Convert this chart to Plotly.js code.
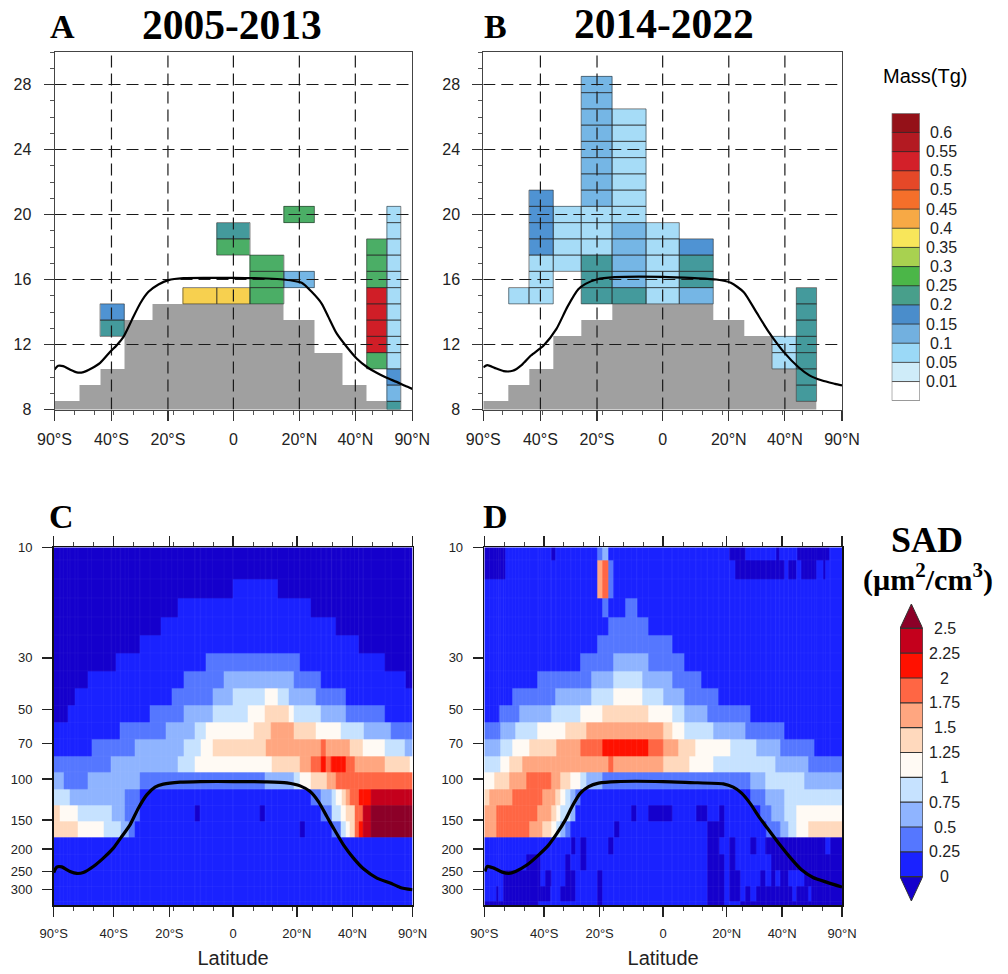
<!DOCTYPE html>
<html>
<head>
<meta charset="utf-8">
<script src="https://cdn.plot.ly/plotly-3.0.1.min.js"></script>
<style>html,body{margin:0;padding:0;background:#fff}#chart{width:1008px;height:974px}</style>
</head>
<body>
<div id="chart"></div>
<script>
// ---------- shared axis data ----------
const latTickVals = [-179, -122, -65.5, 0, 66, 122, 179];
const latTickValsSad = [-179.3, -119.3, -63.7, 0, 63.7, 119.3, 179.3];
const latTickText = ['90°S', '40°S', '20°S', '0', '20°N', '40°N', '90°N'];
const altTicks = [8, 12, 16, 20, 24, 28];
const pressureTicks = [10, 30, 50, 70, 100, 150, 200, 250, 300];

// ---------- panels A, B : mass per latitude band / altitude (km) ----------
const massLatEdges = [-179, -167.5, -153.6, -133.4, -109.2, -81.3, -50.5, -16.6, 16.6, 50.5, 81, 109.2, 133.4, 153.6, 167.5, 179];
const altEdges = [8, 8.5, 9.5, 10.5, 11.5, 12.5, 13.5, 14.5, 15.5, 16.5, 17.5, 18.5, 19.5, 20.5, 21.5, 22.5, 23.5, 24.5, 25.5, 26.5, 27.5, 28.5, 29.5, 30];
const massLevels = [0.01, 0.05, 0.1, 0.15, 0.2, 0.25, 0.3, 0.35, 0.4, 0.45, 0.5, 0.5, 0.55, 0.6];
const massLabels = ['0.01', '0.05', '0.1', '0.15', '0.2', '0.25', '0.3', '0.35', '0.4', '0.45', '0.5', '0.5', '0.55', '0.6'];
const massBarColors = ['#ffffff', '#cfecf9', '#9bd9f7', '#72b0df', '#4a8dcb', '#489f8b', '#4bb648', '#a8d150', '#f8e65a', '#f7a945', '#f56f2a', '#e54828', '#d32029', '#b31a22', '#941118'];
const massCellColors = ['#ffffff', '#cfecf9', '#a6dcf7', '#75b6e5', '#4f93d3', '#449a9c', '#4bae66', '#a8d150', '#f7d04f', '#f7a945', '#f56f2a', '#e54828', '#d01e27', '#b31a22', '#941118'];
// [band index, lowest km, highest km, mass]
const massA = [
  [3, 13, 13, 0.22], [3, 14, 14, 0.17],
  [6, 15, 15, 0.37], [7, 15, 15, 0.37], [7, 18, 18, 0.27], [7, 19, 19, 0.22],
  [8, 15, 17, 0.27], [9, 16, 16, 0.12], [9, 20, 20, 0.27],
  [12, 11, 11, 0.27], [12, 12, 15, 0.52], [12, 16, 18, 0.27],
  [13, 8, 8, 0.22], [13, 9, 9, 0.12], [13, 10, 10, 0.17], [13, 11, 20, 0.07]
];
const massB = [
  [2, 15, 15, 0.07], [3, 15, 17, 0.07], [3, 18, 21, 0.17], [4, 17, 20, 0.07],
  [5, 15, 17, 0.22], [5, 18, 20, 0.07], [5, 21, 28, 0.12],
  [6, 15, 15, 0.22], [6, 16, 19, 0.12], [6, 20, 26, 0.07],
  [7, 15, 19, 0.07], [8, 15, 15, 0.12], [8, 16, 17, 0.22], [8, 18, 18, 0.17],
  [11, 11, 12, 0.07], [12, 9, 15, 0.22]
];
const terrainTopA = [8.5, 8.5, 9.5, 10.5, 13.5, 14.5, 14.5, 14.5, 14.5, 13.5, 11.5, 9.5, 8.5, 8, 8];
const terrainTopB = [8.5, 8.5, 9.5, 10.5, 12.5, 13.5, 14.5, 14.5, 14.5, 13.5, 12.5, 10.5, 8.5, 8, 8];
const tropLatA = [-179, -175.3, -170.3, -163.7, -156.7, -150, -141.7, -133.3, -123.3, -116.7, -110, -101.7, -93.3, -85, -75, -65, -50, -26.7, 0, 33.3, 50, 68.3, 78.3, 88.3, 95, 103.3, 113.3, 123.3, 133.3, 143.3, 153.3, 163.3, 171.7, 179];
const tropAltA = [10.46, 10.69, 10.67, 10.46, 10.28, 10.30, 10.54, 10.87, 11.55, 11.96, 12.47, 13.5, 14.52, 15.24, 15.69, 15.96, 16.08, 16.1, 16.1, 16.06, 16.0, 15.8, 15.24, 14.52, 13.7, 12.68, 11.86, 11.14, 10.63, 10.26, 9.95, 9.7, 9.46, 9.27];
const tropLatB = [-179, -175, -167.8, -158.7, -149.7, -140.5, -131.5, -118.8, -106, -95.2, -84.2, -77, -66, -47.8, 0, 32, 53.5, 68, 81, 93.5, 106, 121, 135.6, 146.5, 159.2, 171.9, 179];
const tropAltB = [10.6, 10.73, 10.56, 10.36, 10.38, 10.75, 11.32, 11.94, 12.96, 14.3, 15.4, 15.73, 16.0, 16.14, 16.16, 16.08, 16.0, 15.8, 15.22, 13.99, 12.76, 11.53, 10.6, 10.1, 9.78, 9.58, 9.48];

// ---------- panels C, D : SAD bins on pressure levels ----------
const pressureEdges = [10, 11.34, 13.7, 16.54, 19.97, 23.9, 28.55, 34.1, 40.4, 48.2, 56.8, 67, 79.6, 93, 110.1, 130, 152.4, 178.5, 210.9, 247.7, 290.4, 337, 350];
const sadLabels = ['0', '0.25', '0.5', '0.75', '1', '1.25', '1.5', '1.75', '2', '2.25', '2.5'];
const sadLevels = [0, 0.25, 0.5, 0.75, 1, 1.25, 1.5, 1.75, 2, 2.25, 2.5];
// bin 0: below 0 ... bin 11: above 2.5
const sadColors = ['#1500cc', '#1a22ff', '#5577ff', '#8fb4ff', '#c6e2ff', '#fffaf4', '#ffd9bd', '#ffa680', '#ff6644', '#ff1100', '#c4001c', '#8c0028'];
// each row, top to bottom: bin, end of run, bin, end of run, ..., bin
const sadC = [
  [0],
  [0],
  [0, 0, 1, 44.3, 0],
  [0, -55.3, 1, 77.7, 0],
  [0, -72, 1, 103, 0],
  [0, -93.7, 1, 125.7, 0],
  [0, -117.3, 1, -27, 2, 66.3, 1, 152, 0],
  [0, -145.3, 1, -49.7, 2, -9, 3, 61, 2, 88, 1, 172, 0],
  [0, -158, 1, -61.3, 2, -20.7, 3, -0.3, 4, 32, 5, 44.3, 4, 55.3, 3, 83, 2, 112.7, 1],
  [0, -165.7, 1, -83, 2, -49.7, 3, -20.7, 4, 14.7, 5, 32, 6, 55.3, 5, 61, 4, 88, 3, 112.7, 2, 152, 1],
  [1, -113, 2, -67, 3, -38.3, 4, -27, 5, 21, 6, 38, 7, 61, 6, 83, 5, 108, 4, 130.3, 3, 158, 2],
  [1, -141.7, 2, -98, 3, -49.7, 4, -32.3, 5, -20.7, 6, 32.7, 7, 87.7, 8, 92.7, 7, 117, 6, 129.7, 5, 152, 4, 171.7, 3],
  [2, -122, 3, -55.3, 4, -38, 5, 38.7, 6, 67, 7, 77.7, 8, 87.7, 9, 92.7, 8, 98, 9, 112.7, 8, 121.3, 7, 152, 6, 176.3, 5],
  [3, -169.7, 2, -145.3, 3, -93, 2, 32, 3, 61, 4, 67, 5, 77.7, 6, 93.7, 7, 103, 8],
  [4, -163, 3, -108, 2, -93, 1, 77.7, 2, 87.7, 3, 98.7, 4, 103, 5, 108.7, 6, 112.7, 7, 117, 8, 125.3, 9, 138, 10],
  [6, -173, 5, -155, 4, -121.3, 3, -108, 2, -93, 1, -38, 0, -33, 1, 27, 0, 32, 1, 88, 2, 98.7, 4, 108, 5, 112.7, 6, 121.3, 8, 129.7, 10, 138, 11],
  [6, -155, 5, -129.7, 4, -112.3, 3, -104.7, 2, -98, 1, 66.3, 0, 72, 1, 98.3, 2, 107.7, 4, 112.7, 5, 117, 6, 121.3, 8, 125.3, 9, 129.7, 10, 138, 11],
  [1], [1], [1], [1], [1]
];
const sadD = [
  [0, -158, 1, -112, 0, -108, 1, -66.3, 2, -60.7, 3, -55.3, 1, 66.3, 0, 82, 1, 113, 0, 116.3, 1, 134, 0, 167, 1],
  [0, -158, 1, -66.3, 7, -60.7, 8, -55.3, 2, -49.7, 1, 72, 0, 121, 1, 125.7, 0, 133.7, 1, 138, 0, 154, 1, 160.3, 0, 162.7, 1],
  [1, -66.3, 7, -60.7, 8, -55.3, 2, -49.7, 1],
  [1, -60.7, 2, -55.3, 1, -38, 2, -26.3, 1],
  [1, -55.3, 2, -14.7, 1],
  [1, -66.3, 2, 9, 1],
  [1, -83, 2, -49.7, 3, -14.7, 2, 21, 1],
  [1, -125.7, 2, -72, 3, -49.7, 4, -20.7, 3, 8.7, 2, 38, 1],
  [1, -151.3, 2, -108, 3, -72, 4, -49.7, 5, -20.7, 4, -0.3, 3, 21, 2, 55.3, 1],
  [1, -164.7, 2, -144.7, 3, -112.3, 4, -83, 5, -60.7, 6, -14.7, 5, 8.7, 4, 21, 3, 44.3, 2, 87.7, 1],
  [2, -163, 3, -148, 4, -125.7, 5, -98, 6, -77.3, 7, 0, 6, 9, 5, 21, 4, 50, 3, 82.7, 2, 121.3, 1],
  [3, -163, 4, -151.3, 5, -133.7, 6, -107.3, 7, -82.7, 8, -60.7, 9, -14.7, 8, 0, 7, 15, 6, 32.3, 5, 67, 4, 93, 3, 117, 2, 152, 1],
  [4, -163, 5, -154.7, 6, -141.3, 7, -55.3, 8, -49.7, 7, 0, 6, 26.7, 5, 50, 4, 112.7, 3, 145.3, 2],
  [5, -169.7, 6, -154.7, 7, -137.3, 8, -112, 7, -103, 6, -93, 5, -82.7, 4, -77.3, 3, -60.7, 2, 87.7, 3, 102.7, 4, 141.3, 3],
  [6, -174, 7, -151.3, 8, -121.3, 7, -108, 6, -103, 5, -98, 4, -93, 3, -88, 2, -82.7, 1, 87.7, 2, 102.7, 3, 121.3, 4],
  [7, -167, 8, -125.7, 7, -112, 6, -107.3, 5, -103, 4, -93, 3, -88, 1, -32, 0, -26.7, 1, -14.7, 0, 9, 1, 33, 0, 44.3, 1, 56, 0, 61.3, 1, 97.7, 2, 108, 3, 121.3, 4, 133.7, 5],
  [7, -167, 8, -133.7, 7, -121.3, 6, -112, 5, -107.3, 4, -103, 3, -98, 2, -93, 1, -49.3, 0, -44, 1, 44.3, 0, 61.3, 1, 103.7, 2, 117, 3, 125.3, 4, 133.7, 5, 145.3, 6],
  [1, -92.3, 0, -88, 1, -82.7, 0, -77.3, 1, -55.3, 0, -49.7, 1, 44.3, 0, 56, 1, 66.7, 0, 72, 1, 87.7, 0, 93, 1, 102.7, 0, 162.7, 1, 167.7, 0],
  [1, -137.3, 0, -123, 1, -98, 0, -93, 1, -82.7, 0, -77.3, 1, 44.3, 0, 61.3, 1, 66.7, 0, 72, 1, 108, 0],
  [1, -160.3, 0, -123, 1, -118, 0, -112, 1, -98, 0, -88, 1, -66, 0, -60.7, 1, 44.3, 0, 61.3, 1, 66.7, 0, 77.3, 1, 97.7, 0, 102.7, 1, 108, 0, 112.7, 1, 117, 0, 125.3, 1, 141.3, 0],
  [1, -167, 0, -165, 1, -160, 0, -113, 1, -103, 0, -88, 1, -66, 0, -60.7, 1, 44, 0, 61.3, 1, 66.7, 0, 77.3, 1, 82.7, 0, 87.7, 1, 93, 0, 129.7, 1, 133.7, 0, 145.3, 1, 148.7, 0],
  [0, -125, 1, -66, 0, -60.7, 1, 44, 0, 61.3, 1, 77, 0]
];
const tropLatC = [-179.3, -176.3, -171.3, -163, -156.3, -149.7, -139.7, -129.7, -119.7, -111.3, -103, -94.7, -86.3, -78, -69.7, -53, -33, 0.3, 33.7, 53.7, 67, 77, 85.3, 93.7, 100.3, 110.3, 120.3, 130.3, 143.7, 157, 167, 179.3];
const tropHpaC = [252.7, 239.4, 239, 250, 255, 252.7, 238, 219, 198.4, 176.8, 157.4, 133.4, 116.9, 108.3, 105.1, 103, 102.4, 102.4, 102.7, 103.7, 106.9, 113.1, 125, 144.9, 162.6, 192, 219, 243.5, 267, 280.6, 293, 300];
const tropLatD = [-178.7, -176.3, -169.7, -161.3, -154.7, -148, -136.3, -124.7, -114.7, -106.3, -98, -91.3, -83, -74.7, -64.7, -46.3, 0, 27, 60.3, 70.3, 78.7, 87, 97, 107, 117, 127, 138.7, 150.3, 163.7, 179.3];
const tropHpaD = [250, 238, 241.9, 251.7, 255, 250, 234, 212, 192, 171, 149.8, 131.2, 114.9, 107.6, 104, 102.4, 102.4, 103.4, 104.8, 108.3, 114.9, 126.9, 147.3, 168.2, 192, 216.9, 245.9, 265.5, 278, 292];

// ---------- helpers ----------
const W = 1008, H = 974, ink = '#222';
const FONT = 'Liberation Sans, Arial, sans-serif', SERIF = 'Liberation Serif, Times New Roman, serif';
const domX = (a, b) => [a / W, b / W];
const domY = (top, bottom) => [1 - bottom / H, 1 - top / H];
const discrete = cols => cols.flatMap((c, i) => [[i / cols.length, c], [(i + 1) / cols.length, c]]);
const heat = (o, cols) => Object.assign({type: 'heatmap', showscale: false, hoverinfo: 'skip', zsmooth: false, colorscale: discrete(cols), zmin: -0.5, zmax: cols.length - 0.5}, o);
const line = (x, y, xa, ya, ln, extra) => Object.assign({type: 'scatter', mode: 'lines', x, y, xaxis: xa, yaxis: ya, line: ln, hoverinfo: 'skip', showlegend: false}, extra || {});
const massBin = v => massLevels.filter(l => l <= v).length;

const traces = [];
const minorLat = Array.from({length: 19}, (_, i) => -179.3 + i * 179.3 / 9);
const majorAlt = altTicks;
const minorAlt = altEdges.slice(1, -1).map(e => e + 0.5).concat([8]);

function massPanel(cells, terrain, tlat, talt, xa, ya) {
  const rows = altEdges.length - 1, cols = massLatEdges.length - 1;
  const centers = Array.from({length: rows}, (_, r) => r + 8);
  const tz = centers.map(a => terrain.map(t => a < t ? 0 : null));
  traces.push(heat({x: massLatEdges, y: altEdges, z: tz, xaxis: xa, yaxis: ya}, ['#a0a0a0']));
  const cz = centers.map(() => new Array(cols).fill(null));
  const ox = [], oy = [];
  cells.forEach(([col, lo, hi, v]) => {
    for (let a = lo; a <= hi; a++) {
      cz[a - 8][col] = massBin(v);
      const x0 = massLatEdges[col], x1 = massLatEdges[col + 1], y0 = altEdges[a - 8], y1 = altEdges[a - 7];
      ox.push(x0, x1, x1, x0, x0, null); oy.push(y0, y0, y1, y1, y0, null);
    }
  });
  traces.push(heat({x: massLatEdges, y: altEdges, z: cz, xaxis: xa, yaxis: ya}, massCellColors));
  traces.push(line(ox, oy, xa, ya, {color: 'rgba(40,40,40,0.72)', width: 0.8}));
  const gx = [], gy = [];
  latTickVals.slice(1, -1).forEach(v => { gx.push(v, v, null); gy.push(8, 30, null); });
  altTicks.slice(1).forEach(v => { gx.push(-179, 179, null); gy.push(v, v, null); });
  traces.push(line(gx, gy, xa, ya, {color: '#1a1a1a', width: 1.2, dash: '12px,6px'}));
  traces.push(line(tlat, talt, xa, ya, {color: '#000', width: 2.2, shape: 'spline', smoothing: 0.6}));
}

function sadPanel(rows, tlat, thpa, xa, ya) {
  const stops = new Set([-179.3, 179.3]);
  rows.forEach(r => { for (let i = 1; i < r.length; i += 2) stops.add(r[i]); });
  const edges = [...stops].sort((a, b) => a - b);
  const z = rows.map(r => edges.slice(0, -1).map((e, k) => {
    const mid = (e + edges[k + 1]) / 2;
    let bin = r[0];
    for (let i = 1; i < r.length; i += 2) if (mid > r[i]) bin = r[i + 1];
    return bin;
  }));
  traces.push(heat({x: edges, y: pressureEdges, z, xaxis: xa, yaxis: ya}, sadColors));
  const fx = [], fy = [];
  pressureEdges.forEach(p => { fx.push(-179.3, 179.3, null); fy.push(p, p, null); });
  edges.forEach(e => { fx.push(e, e, null); fy.push(10, 350, null); });
  traces.push(line(fx, fy, xa, ya, {color: 'rgba(255,255,255,0.07)', width: 0.6}));
  traces.push(line(tlat, thpa, xa, ya, {color: '#000', width: 3.2, shape: 'spline', smoothing: 0.6}));
}

massPanel(massA, terrainTopA, tropLatA, tropAltA, 'x', 'y');
massPanel(massB, terrainTopB, tropLatB, tropAltB, 'x2', 'y2');
sadPanel(sadC, tropLatC, tropHpaC, 'x3', 'y3');
sadPanel(sadD, tropLatD, tropHpaD, 'x4', 'y4');

// colour bars
const massBarEdges = Array.from({length: 16}, (_, i) => i);
traces.push(heat({x: [0, 1], y: massBarEdges, z: massBarColors.map((_, i) => [i]), xaxis: 'x5', yaxis: 'y5'}, massBarColors));
const msx = [], msy = [];
massLabels.forEach((_, i) => { msx.push(0, 1, null); msy.push(i + 1, i + 1, null); });
traces.push(line(msx, msy, 'x5', 'y5', {color: 'rgba(40,40,40,0.8)', width: 1}));
traces.push(line([0, 1, 1, 0, 0], [0, 0, 15, 15, 0], 'x5', 'y5', {color: '#777', width: 1.2}, {cliponaxis: false}));

traces.push(heat({x: [0, 1], y: sadLevels, z: sadLevels.slice(0, -1).map((_, i) => [i + 1]), xaxis: 'x6', yaxis: 'y6'}, sadColors));
traces.push(line([0, 0.5, 1, 0], [2.5, 2.745, 2.5, 2.5], 'x6', 'y6', {color: '#333', width: 1}, {fill: 'toself', fillcolor: sadColors[11]}));
traces.push(line([0, 0.5, 1, 0], [0, -0.245, 0, 0], 'x6', 'y6', {color: '#333', width: 1}, {fill: 'toself', fillcolor: sadColors[0]}));
const ssx = [0, 0, null, 1, 1, null], ssy = [0, 2.5, null, 0, 2.5, null];
sadLevels.forEach(l => { ssx.push(0, 1, null); ssy.push(l, l, null); });
traces.push(line(ssx, ssy, 'x6', 'y6', {color: '#333', width: 1.2}, {cliponaxis: false}));

// axes
const massX = (a, b, anchor) => ({
  domain: domX(a, b), range: [-179, 179], anchor, showgrid: false, zeroline: false, fixedrange: true,
  tickmode: 'array', tickvals: latTickVals, ticktext: latTickText, ticks: 'outside', ticklen: 10, tickwidth: 1.2, tickcolor: '#333',
  ticklabelstandoff: 5, tickfont: {family: FONT, size: 16, color: ink}, showline: true, linecolor: '#444', linewidth: 1, mirror: true,
  minor: {tickmode: 'array', tickvals: minorLat, ticks: 'outside', ticklen: 4, tickwidth: 1, tickcolor: '#555', showgrid: false}
});
const massY = anchor => ({
  domain: domY(52, 409.5), range: [8, 30], anchor, showgrid: false, zeroline: false, fixedrange: true,
  tickmode: 'array', tickvals: majorAlt, ticks: 'outside', ticklen: 10, tickwidth: 1.2, tickcolor: '#333',
  ticklabelstandoff: 9, tickfont: {family: FONT, size: 16, color: ink}, showline: true, linecolor: '#444', linewidth: 1, mirror: true,
  minor: {tickmode: 'array', tickvals: minorAlt, ticks: 'outside', ticklen: 4, tickwidth: 1, tickcolor: '#555', showgrid: false}
});
const sadX = (a, b, anchor) => ({
  domain: domX(a, b), range: [-179.3, 179.3], anchor, showgrid: false, zeroline: false, fixedrange: true,
  tickmode: 'array', tickvals: latTickValsSad, ticktext: latTickText, ticks: 'outside', ticklen: 10, tickwidth: 1.4, tickcolor: '#222',
  ticklabelstandoff: 5, tickfont: {family: FONT, size: 13, color: ink}, showline: true, linecolor: '#111', linewidth: 1.6, mirror: 'ticks',
  minor: {tickmode: 'array', tickvals: minorLat, ticks: 'outside', ticklen: 4, tickwidth: 1, tickcolor: '#444', showgrid: false},
  title: {text: 'Latitude', standoff: 11, font: {family: FONT, size: 20, color: ink}}
});
const sadY = anchor => ({
  domain: domY(547.3, 905.3), type: 'log', range: [2.544, 1], anchor, showgrid: false, zeroline: false, fixedrange: true,
  tickmode: 'array', tickvals: pressureTicks, ticktext: pressureTicks.map(String), ticks: 'outside', ticklen: 10, tickwidth: 1.4, tickcolor: '#222',
  ticklabelstandoff: 7, tickfont: {family: FONT, size: 13, color: ink}, showline: true, linecolor: '#111', linewidth: 1.6, mirror: true
});
const bare = o => Object.assign({visible: false, fixedrange: true}, o);

const ann = (text, x, y, size, family, weight) => ({
  text: weight ? '<b>' + text + '</b>' : text, xref: 'paper', yref: 'paper', x: x / W, y: 1 - y / H,
  xanchor: 'center', yanchor: 'middle', showarrow: false, font: {family, size, color: '#000'}
});
const annotations = [
  ann('A', 62.5, 27, 34, SERIF, true), ann('2005-2013', 231.7, 25, 41.5, SERIF, true),
  ann('B', 495, 27, 34, SERIF, true), ann('2014-2022', 663.6, 24, 41.5, SERIF, true),
  ann('C', 61, 516.5, 34, SERIF, true), ann('D', 495.5, 516.5, 34, SERIF, true),
  ann('Mass(Tg)', 924.5, 75.7, 20, FONT, false),
  ann('SAD', 926.7, 540, 36, SERIF, true), ann('(µm<sup>2</sup>/cm<sup>3</sup>)', 928, 577, 30, SERIF, true)
];
massLabels.forEach((t, i) => annotations.push({text: t, xref: 'paper', yref: 'y5', x: 941 / W, y: i + 1, showarrow: false, xanchor: 'center', yanchor: 'middle', font: {family: FONT, size: 16, color: ink}}));
sadLabels.forEach((t, i) => annotations.push({text: t, xref: 'paper', yref: 'y6', x: 944.7 / W, y: sadLevels[i], showarrow: false, xanchor: 'center', yanchor: 'middle', font: {family: FONT, size: 16, color: ink}}));

const layout = {
  width: W, height: H, margin: {l: 0, r: 0, t: 0, b: 0}, paper_bgcolor: '#fff', plot_bgcolor: '#fff', showlegend: false,
  xaxis: massX(54.5, 412.3, 'y'), yaxis: massY('x'),
  xaxis2: massX(483.3, 842, 'y2'), yaxis2: massY('x2'),
  xaxis3: sadX(53.7, 412.5, 'y3'), yaxis3: sadY('x3'),
  xaxis4: sadX(484.3, 842, 'y4'), yaxis4: sadY('x4'),
  xaxis5: bare({domain: domX(891.7, 920), range: [0, 1], anchor: 'y5'}),
  yaxis5: bare({domain: domY(113.3, 400.7), range: [0, 15], anchor: 'x5'}),
  xaxis6: bare({domain: domX(900, 922.7), range: [0, 1], anchor: 'y6'}),
  yaxis6: bare({domain: domY(604, 901), range: [-0.245, 2.745], anchor: 'x6'}),
  annotations
};
Plotly.newPlot('chart', traces, layout, {staticPlot: true, displayModeBar: false});
</script>
</body>
</html>
